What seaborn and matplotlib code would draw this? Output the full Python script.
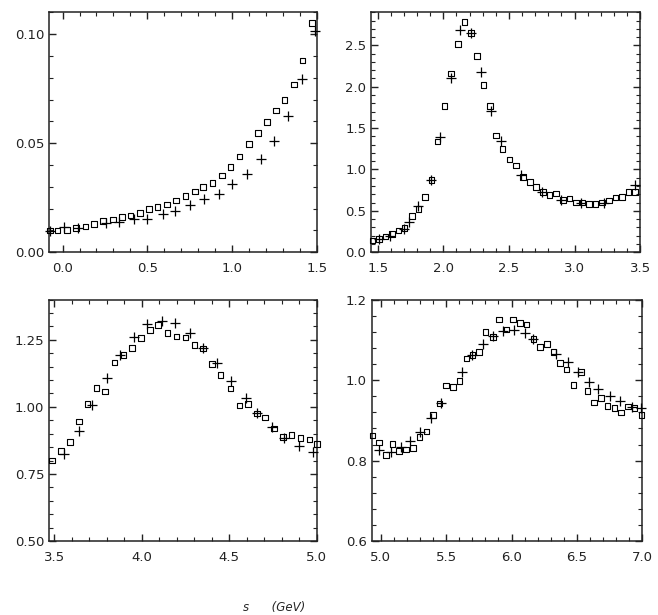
import numpy as np
import matplotlib
matplotlib.use("Agg")
import matplotlib.pyplot as plt
from matplotlib.ticker import MultipleLocator
import seaborn as sns

# panel 1 (0 - 1.5)
p1_sq_x = [-0.075, -0.03, 0.026, 0.08, 0.136, 0.186, 0.24, 0.296, 0.35, 0.40, 0.456, 0.51,
           0.56, 0.616, 0.67, 0.724, 0.78, 0.83, 0.884, 0.94, 0.99, 1.044, 1.10, 1.152,
           1.206, 1.26, 1.31, 1.364, 1.416, 1.47]
p1_sq_y = [0.0099, 0.0100, 0.0101, 0.0110, 0.0118, 0.0130, 0.0142, 0.0150, 0.0160, 0.0168,
           0.0180, 0.0199, 0.0206, 0.0219, 0.0237, 0.0257, 0.0278, 0.0298, 0.0318, 0.0352,
           0.0390, 0.0439, 0.0497, 0.0546, 0.0596, 0.0650, 0.0699, 0.0768, 0.0879, 0.1050]
p1_pl_x = [-0.075, 0.01, 0.09, 0.256, 0.33, 0.42, 0.50, 0.59, 0.666, 0.754, 0.836, 0.92,
           1.0, 1.09, 1.17, 1.25, 1.33, 1.41, 1.49]
p1_pl_y = [0.0099, 0.0115, 0.0110, 0.0133, 0.0138, 0.0153, 0.0150, 0.0176, 0.0188, 0.0214,
           0.0245, 0.0268, 0.0313, 0.0360, 0.0425, 0.0512, 0.0625, 0.0795, 0.1014]

# panel 2 (1.5 - 3.5)
p2_sq_x = [1.46, 1.51, 1.56, 1.61, 1.66, 1.705, 1.76, 1.81, 1.86, 1.91, 1.955, 2.01, 2.06,
           2.11, 2.16, 2.21, 2.255, 2.305, 2.355, 2.40, 2.45, 2.505, 2.555, 2.605, 2.66,
           2.705, 2.76, 2.81, 2.86, 2.91, 2.96, 3.01, 3.06, 3.11, 3.16, 3.21, 3.26, 3.31,
           3.36, 3.41, 3.46]
p2_sq_y = [0.14, 0.16, 0.19, 0.22, 0.26, 0.29, 0.44, 0.52, 0.67, 0.87, 1.34, 1.77, 2.16,
           2.52, 2.78, 2.65, 2.37, 2.02, 1.77, 1.41, 1.25, 1.12, 1.05, 0.91, 0.85, 0.79,
           0.73, 0.69, 0.71, 0.63, 0.65, 0.60, 0.60, 0.58, 0.58, 0.60, 0.625, 0.66, 0.67,
           0.73, 0.73]
p2_pl_x = [1.51, 1.595, 1.70, 1.74, 1.81, 1.905, 1.975, 2.055, 2.13, 2.21, 2.29, 2.36, 2.44,
           2.595, 2.75, 2.90, 3.05, 3.225, 3.46]
p2_pl_y = [0.16, 0.20, 0.28, 0.36, 0.56, 0.87, 1.39, 2.10, 2.69, 2.65, 2.18, 1.71, 1.34,
           0.93, 0.73, 0.63, 0.60, 0.60, 0.81]

# panel 3 (3.5 - 5.0)
p3_sq_x = [3.487, 3.54, 3.59, 3.64, 3.69, 3.74, 3.79, 3.845, 3.896, 3.943, 3.996, 4.047,
           4.094, 4.147, 4.198, 4.25, 4.30, 4.35, 4.40, 4.45, 4.506, 4.557, 4.607, 4.657,
           4.704, 4.755, 4.807, 4.855, 4.906, 4.957, 5.0]
p3_sq_y = [0.800, 0.835, 0.870, 0.945, 1.010, 1.070, 1.057, 1.165, 1.193, 1.220, 1.256,
           1.287, 1.306, 1.275, 1.262, 1.259, 1.230, 1.218, 1.160, 1.118, 1.069, 1.005,
           1.011, 0.976, 0.961, 0.920, 0.889, 0.895, 0.885, 0.879, 0.861]
p3_pl_x = [3.557, 3.64, 3.717, 3.80, 3.877, 3.958, 4.032, 4.113, 4.19, 4.273, 4.35, 4.43,
           4.51, 4.594, 4.66, 4.745, 4.815, 4.896, 4.977]
p3_pl_y = [0.826, 0.910, 1.007, 1.107, 1.194, 1.262, 1.308, 1.321, 1.312, 1.277, 1.219,
           1.165, 1.098, 1.032, 0.978, 0.926, 0.885, 0.854, 0.833]

# panel 4 (5.0 - 7.0)
p4_sq_x = [4.936, 4.987, 5.038, 5.09, 5.14, 5.19, 5.244, 5.295, 5.35, 5.40, 5.45, 5.50,
           5.55, 5.60, 5.654, 5.70, 5.75, 5.80, 5.86, 5.905, 5.96, 6.013, 6.064, 6.115,
           6.167, 6.218, 6.27, 6.32, 6.37, 6.42, 6.474, 6.53, 6.58, 6.633, 6.685, 6.736,
           6.787, 6.838, 6.89, 6.94, 6.995]
p4_sq_y = [0.862, 0.845, 0.814, 0.841, 0.824, 0.828, 0.832, 0.859, 0.872, 0.913, 0.942,
           0.987, 0.983, 0.998, 1.053, 1.062, 1.069, 1.119, 1.107, 1.150, 1.125, 1.150,
           1.142, 1.138, 1.102, 1.082, 1.090, 1.070, 1.042, 1.026, 0.988, 1.020, 0.973,
           0.944, 0.955, 0.936, 0.930, 0.919, 0.934, 0.930, 0.913]
p4_pl_x = [4.987, 5.077, 5.15, 5.22, 5.30, 5.385, 5.46, 5.62, 5.70, 5.78, 5.86, 5.936,
           6.02, 6.10, 6.167, 6.34, 6.43, 6.51, 6.59, 6.665, 6.75, 6.83, 6.92, 6.99]
p4_pl_y = [0.826, 0.822, 0.834, 0.849, 0.872, 0.905, 0.942, 1.021, 1.063, 1.090, 1.109,
           1.121, 1.124, 1.117, 1.102, 1.065, 1.044, 1.020, 0.996, 0.978, 0.960, 0.947,
           0.934, 0.930]

sns.set_style("ticks", {"xtick.direction": "in", "ytick.direction": "in",
                        "axes.edgecolor": "#222222"})
plt.rcParams["font.family"] = ["DejaVu Sans"]

fig = plt.figure(figsize=(6.58, 6.15), dpi=100)

panels = [
    # rect, data, xlim, ylim, xmaj, xmin, ymaj, ymin, yfmt
    ([0.0745, 0.590, 0.407, 0.390], (p1_sq_x, p1_sq_y, p1_pl_x, p1_pl_y),
     (-0.08, 1.5), (0.0, 0.11), 0.5, 0.1, 0.05, 0.01, "{:.2f}"),
    ([0.564, 0.590, 0.409, 0.390], (p2_sq_x, p2_sq_y, p2_pl_x, p2_pl_y),
     (1.45, 3.5), (0.0, 2.9), 0.5, 0.1, 0.5, 0.1, "{:.1f}"),
    ([0.0745, 0.120, 0.407, 0.393], (p3_sq_x, p3_sq_y, p3_pl_x, p3_pl_y),
     (3.47, 5.0), (0.5, 1.4), 0.5, 0.1, 0.25, 0.05, "{:.2f}"),
    ([0.565, 0.120, 0.411, 0.393], (p4_sq_x, p4_sq_y, p4_pl_x, p4_pl_y),
     (4.93, 7.0), (0.6, 1.2), 0.5, 0.1, 0.2, 0.04, "{:.1f}"),
]

for rect, (sx, sy, px, py), xl, yl, xmaj, xmin, ymaj, ymin, yfmt in panels:
    ax = fig.add_axes(rect)
    sns.scatterplot(x=px, y=py, ax=ax, marker="+", s=45, color="black",
                    linewidth=0.9, zorder=3, clip_on=False)
    sns.scatterplot(x=sx, y=sy, ax=ax, marker="s", s=16, facecolor="none",
                    edgecolor="black", linewidth=0.8, zorder=4, clip_on=False)
    ax.set_xlim(*xl)
    ax.set_ylim(*yl)
    ax.xaxis.set_major_locator(MultipleLocator(xmaj))
    ax.xaxis.set_minor_locator(MultipleLocator(xmin))
    ax.yaxis.set_major_locator(MultipleLocator(ymaj))
    ax.yaxis.set_minor_locator(MultipleLocator(ymin))
    ax.xaxis.set_major_formatter(plt.FuncFormatter(lambda v, p: "{:.1f}".format(v)))
    ax.yaxis.set_major_formatter(plt.FuncFormatter(lambda v, p, f=yfmt: f.format(v)))
    ax.tick_params(which="both", top=True, right=True, direction="in",
                   labelsize=9.5, colors="#222222")
    ax.tick_params(which="major", length=5, width=1)
    ax.tick_params(which="minor", length=3, width=0.8)
    ax.tick_params(axis="x", pad=7)
    for sp in ax.spines.values():
        sp.set_linewidth(1.1)

# x-axis title at the very bottom edge
fig.text(0.37, 1.5 / 615, "s      (GeV)", fontsize=8.5, style="italic",
         va="bottom", ha="left")

fig.savefig("out.png", dpi=100)
